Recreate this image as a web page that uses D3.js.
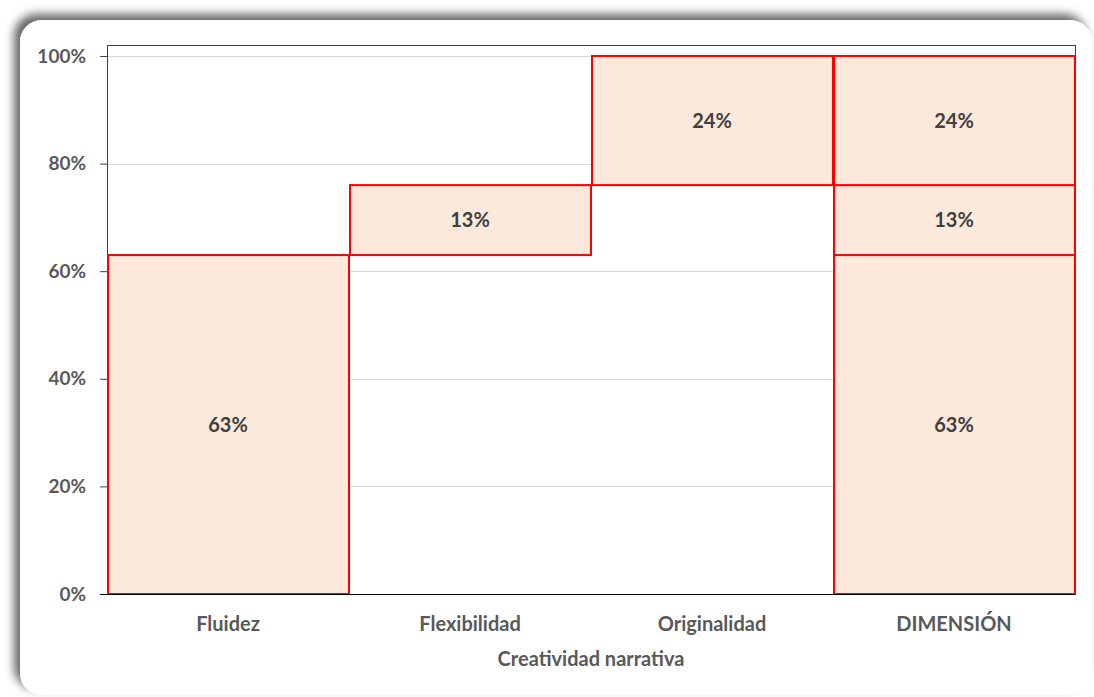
<!DOCTYPE html>
<html>
<head>
<meta charset="utf-8">
<script src="https://cdn.jsdelivr.net/npm/d3@7"></script>
<style>
  body { margin: 0; background: #fff; }
  svg text { font-family: Lato, "Open Sans", sans-serif; font-weight: bold; }
</style>
</head>
<body>
<svg id="chart" width="1094" height="697"></svg>
<script>
// categories and values
const categories = ['Fluidez', 'Flexibilidad', 'Originalidad', 'DIMENSIÓN']
const segments = [
    {cat: 'Fluidez', from: 0, to: 0.63, label: '63%'},
    {cat: 'Flexibilidad', from: 0.63, to: 0.76, label: '13%'},
    {cat: 'Originalidad', from: 0.76, to: 1.0, label: '24%'},
    {cat: 'DIMENSIÓN', from: 0, to: 0.63, label: '63%'},
    {cat: 'DIMENSIÓN', from: 0.63, to: 0.76, label: '13%'},
    {cat: 'DIMENSIÓN', from: 0.76, to: 1.0, label: '24%'}
]
const yTicks = [0, 0.2, 0.4, 0.6, 0.8, 1.0]
const axisTitle = 'Creatividad narrativa'

const svg = d3.select('#chart')

// card with shadow
const defs = svg.append('defs')
const f = defs.append('filter').attr('id', 'shadow')
    .attr('x', '-5%').attr('y', '-5%').attr('width', '110%').attr('height', '110%')
f.append('feGaussianBlur').attr('in', 'SourceAlpha').attr('stdDeviation', 5)
f.append('feOffset').attr('dx', -6).attr('dy', -6).attr('result', 'b')
f.append('feFlood').attr('flood-color', '#000').attr('flood-opacity', 0.6)
f.append('feComposite').attr('in2', 'b').attr('operator', 'in')
const m = f.append('feMerge')
m.append('feMergeNode')
m.append('feMergeNode').attr('in', 'SourceGraphic')

svg.append('rect')
    .attr('x', 20).attr('y', 20).attr('width', 1072).attr('height', 675)
    .attr('rx', 22)
    .attr('fill', '#fff')
    .attr('filter', 'url(#shadow)')

const pLeft = 107, pRight = 1075, pTop = 45, pBottom = 594

const x = d3.scaleBand().domain(categories).range([pLeft, pRight]).padding(0)
const y = d3.scaleLinear().domain([0, 1.0204]).range([pBottom, pTop])

// gridlines
svg.append('g').selectAll('line').data(yTicks.slice(1)).join('line')
    .attr('x1', pLeft).attr('x2', pRight)
    .attr('y1', d => Math.round(y(d)) + 0.5).attr('y2', d => Math.round(y(d)) + 0.5)
    .attr('stroke', '#d9d9d9').attr('stroke-width', 1)

// plot border
svg.append('rect')
    .attr('x', pLeft + 0.5).attr('y', pTop + 0.5)
    .attr('width', pRight - pLeft).attr('height', pBottom - pTop)
    .attr('fill', 'none').attr('stroke', '#404040').attr('stroke-width', 1)

// y axis
const yAxis = svg.append('g')
    .attr('transform', `translate(${pLeft},0)`)
    .call(d3.axisLeft(y).tickValues(yTicks).tickFormat(d3.format('.0%')).tickSize(7).tickPadding(14))
yAxis.select('.domain').remove()
yAxis.selectAll('line').attr('stroke', '#404040')
yAxis.selectAll('text').attr('fill', '#595959').style('font-size', '19px')

// bars
svg.append('g').selectAll('rect').data(segments).join('rect')
    .attr('x', d => x(d.cat) + 1)
    .attr('y', d => y(d.to))
    .attr('width', x.bandwidth() - 1)
    .attr('height', d => y(d.from) - y(d.to))
    .attr('fill', '#fce9db')
    .attr('stroke', '#ff0000')
    .attr('stroke-width', 2)

svg.append('g').selectAll('text').data(segments).join('text')
    .attr('x', d => x(d.cat) + x.bandwidth() / 2)
    .attr('y', d => y((d.from + d.to) / 2))
    .attr('dy', '0.35em')
    .attr('text-anchor', 'middle')
    .attr('fill', '#404040')
    .style('font-size', '20px')
    .text(d => d.label)

// x axis
const xAxis = svg.append('g')
    .attr('transform', `translate(0,${pBottom})`)
    .call(d3.axisBottom(x).tickSize(0).tickPadding(23))
xAxis.select('.domain').attr('d', `M${pLeft - 7},0.5H${pRight}`).attr('stroke', '#000')
xAxis.selectAll('text').attr('fill', '#595959').style('font-size', '20px')

svg.append('text')
    .attr('x', (pLeft + pRight) / 2).attr('y', 666)
    .attr('text-anchor', 'middle')
    .attr('fill', '#595959')
    .style('font-size', '20px')
    .text(axisTitle)
</script>
</body>
</html>
